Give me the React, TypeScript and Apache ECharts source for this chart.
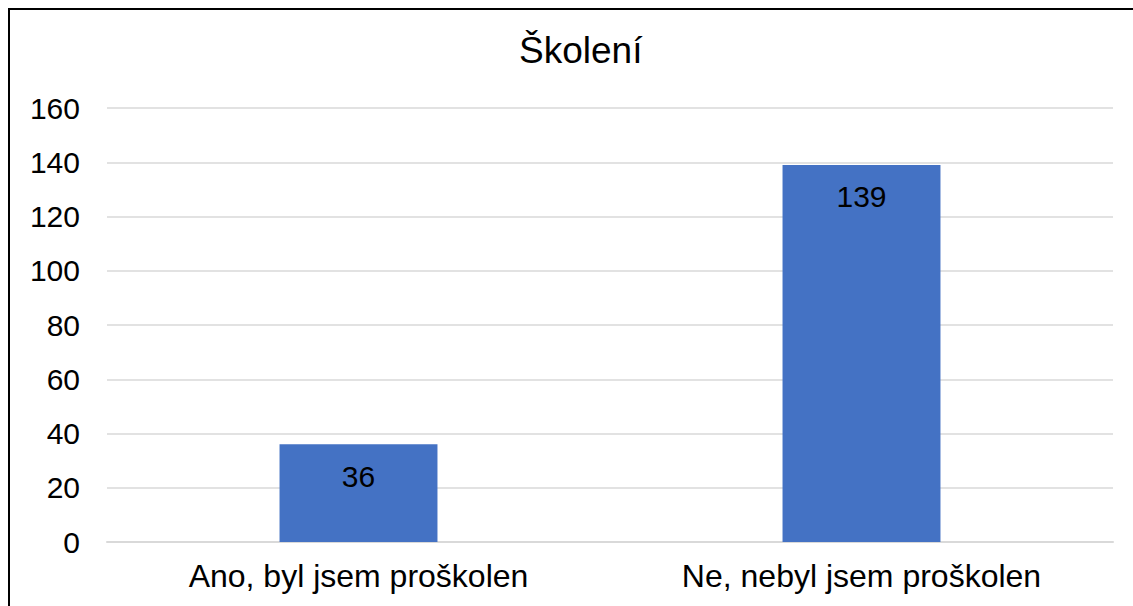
import React, { useEffect, useRef } from "react";
import * as echarts from "echarts";

const categories = ["Ano, byl jsem proškolen", "Ne, nebyl jsem proškolen"];
const values = [36, 139];
const yTicks = [0, 20, 40, 60, 80, 100, 120, 140, 160];
const titleText = "Školení";

export default function App() {
  const ref = useRef<HTMLDivElement>(null);
  useEffect(() => {
    if (!ref.current) return;
    const chart = echarts.init(ref.current, null, { renderer: "svg" });
    const font = "'Liberation Sans', Arial, sans-serif";
    chart.setOption({
      animation: false,
      backgroundColor: "#ffffff",
      title: {
        text: titleText,
        left: 514,
        top: 27,
        textStyle: { fontFamily: font, fontSize: 37, fontWeight: "normal", color: "#000" },
      },
      graphic: [
        {
          type: "rect",
          shape: { x: 9, y: 9, width: 1140, height: 620 },
          style: { fill: "none", stroke: "#000", lineWidth: 2 },
          silent: true,
        },
      ],
      grid: { left: 107, right: 20, top: 108, bottom: 64, containLabel: false },
      xAxis: {
        type: "category",
        data: categories,
        axisLine: { show: true, lineStyle: { color: "#d9d9d9", width: 2 } },
        axisTick: { show: false },
        axisLabel: { fontFamily: font, fontSize: 32, color: "#000", margin: 18 },
      },
      yAxis: {
        type: "value",
        min: yTicks[0],
        max: yTicks[yTicks.length - 1],
        interval: 20,
        axisLine: { show: false },
        axisTick: { show: false },
        splitLine: { lineStyle: { color: "#d9d9d9", width: 1.5 } },
        axisLabel: { fontFamily: font, fontSize: 30, color: "#000", margin: 27 },
      },
      series: [
        {
          type: "bar",
          data: values,
          barWidth: "31.4%",
          itemStyle: { color: "#4472c4" },
          label: {
            show: true,
            position: "insideTop",
            distance: 17,
            fontFamily: font,
            fontSize: 30,
            color: "#000",
          },
        },
      ],
    });
    return () => chart.dispose();
  }, []);
  return (
    <div
      ref={ref}
      style={{ position: "fixed", left: 0, top: 0, width: 1133, height: 606 }}
    />
  );
}
